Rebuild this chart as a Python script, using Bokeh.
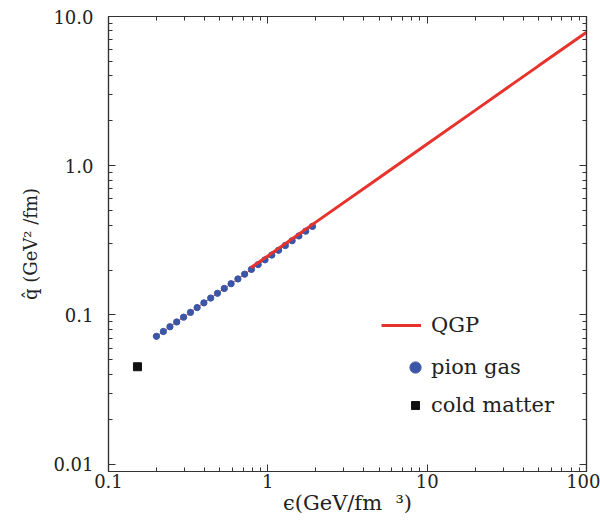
from bokeh.plotting import figure
from bokeh.models import Range1d, LogAxis, FixedTicker, Legend, LegendItem
from bokeh.embed import file_html
from bokeh.resources import INLINE

# ---- data ----
qgp_eps = [0.78, 1.0, 2.0, 5.0, 10.0, 20.0, 50.0, 100.0]
qgp_qhat = [0.207, 0.249, 0.419, 0.832, 1.40, 2.35, 4.67, 7.84]

pion_eps = [0.200, 0.221, 0.243, 0.268, 0.296, 0.327, 0.360, 0.397, 0.438, 0.483,
            0.533, 0.588, 0.649, 0.715, 0.789, 0.870, 0.960, 1.059, 1.168, 1.288,
            1.421, 1.568, 1.729, 1.907]
pion_qhat = [0.0720, 0.0775, 0.0834, 0.0898, 0.0967, 0.1041, 0.1121, 0.1206, 0.1299, 0.1398,
             0.1505, 0.1620, 0.1744, 0.1877, 0.2021, 0.2176, 0.2342, 0.2521, 0.2714, 0.2922,
             0.3146, 0.3386, 0.3645, 0.3924]

cold_eps = [0.152]
cold_qhat = [0.045]

x_ticks = [0.1, 1, 10, 100]
x_tick_labels = ["0.1", "1", "10", "100"]
y_ticks = [0.01, 0.1, 1, 10]
y_tick_labels = ["0.01", "0.1", "1.0", "10.0"]

FONT = "DejaVu Serif"
RED = "#e8332c"
BLUE = "#3b56a6"

p = figure(width=600, height=521, x_axis_type="log", y_axis_type="log",
           x_range=Range1d(0.1, 100), y_range=Range1d(0.00894, 10),
           output_backend="svg", toolbar_location=None,
           min_border_left=108, min_border_right=14, min_border_top=16, min_border_bottom=50)
p.grid.visible = False
p.outline_line_color = "#333333"
p.outline_line_width = 1.2
p.background_fill_color = "white"
p.border_fill_color = "white"

def minor(ticks):
    out = []
    for t in ticks[:-1]:
        out += [t * k for k in range(2, 10)]
    return out

xt = FixedTicker(ticks=x_ticks, minor_ticks=minor(x_ticks))
yt = FixedTicker(ticks=y_ticks, minor_ticks=minor([0.001] + y_ticks))

def style(ax, show_labels):
    ax.axis_line_color = "#333333"
    ax.axis_line_width = 1.2
    ax.major_tick_line_color = "#333333"
    ax.minor_tick_line_color = "#333333"
    ax.major_tick_in = 7
    ax.major_tick_out = 0
    ax.minor_tick_in = 4
    ax.minor_tick_out = 0
    ax.major_label_text_font = FONT
    ax.major_label_text_color = "#222222"
    ax.major_label_text_font_size = "18px"
    ax.axis_label_text_font = FONT
    ax.axis_label_text_font_style = "normal"
    ax.axis_label_text_font_size = "19px"
    ax.axis_label_text_color = "#222222"
    if not show_labels:
        ax.major_label_text_font_size = "1px"
        ax.major_label_text_color = None
        ax.major_label_standoff = 0

xa = p.xaxis[0]
xa.ticker = xt
xa.major_label_overrides = {t: l for t, l in zip(x_ticks, x_tick_labels)}
style(xa, True)
xa.axis_label = "ϵ(GeV/fm\u00a0\u00a0³)"
xa.axis_label_text_font_size = "21px"
xa.major_label_standoff = 2
xa.axis_label_standoff = 0

ya = p.yaxis[0]
ya.ticker = yt
ya.major_label_overrides = {t: l for t, l in zip(y_ticks, y_tick_labels)}
style(ya, True)
ya.axis_label = "q̂ (GeV² /fm)"
ya.axis_label_text_font_size = "18px"
ya.major_label_standoff = 15
ya.axis_label_standoff = 9

top = LogAxis(ticker=xt)
style(top, False)
p.add_layout(top, "above")
right = LogAxis(ticker=yt)
style(right, False)
p.add_layout(right, "right")

# ---- data glyphs ----
p.line(pion_eps, pion_qhat, line_color=RED, line_width=1)
r_pion = p.scatter(pion_eps, pion_qhat, marker="circle", size=6.3,
                   fill_color=BLUE, line_color=BLUE)
r_qgp = p.line(qgp_eps, qgp_qhat, line_color=RED, line_width=3)
r_cold = p.scatter(cold_eps, cold_qhat, marker="square", size=8,
                   fill_color="#111111", line_color="#111111")

def make_legend(label, renderer, gw, gh, standoff, loc):
    lg = Legend(items=[LegendItem(label=label, renderers=[renderer])],
                location=loc, glyph_width=gw, glyph_height=gh,
                label_height=gh, label_standoff=standoff, padding=0, margin=0,
                spacing=0, border_line_color=None, background_fill_alpha=0,
                label_text_font=FONT, label_text_font_size="21px",
                label_text_color="#222222")
    p.add_layout(lg, "center")

make_legend("QGP", r_qgp, 40, 32, 10, (273, 130))
make_legend("pion gas", r_pion, 28, 32, 2, (293, 88))
make_legend("cold matter", r_cold, 20, 32, 6, (297, 50))

open("out.html", "w").write(file_html(p, INLINE))
